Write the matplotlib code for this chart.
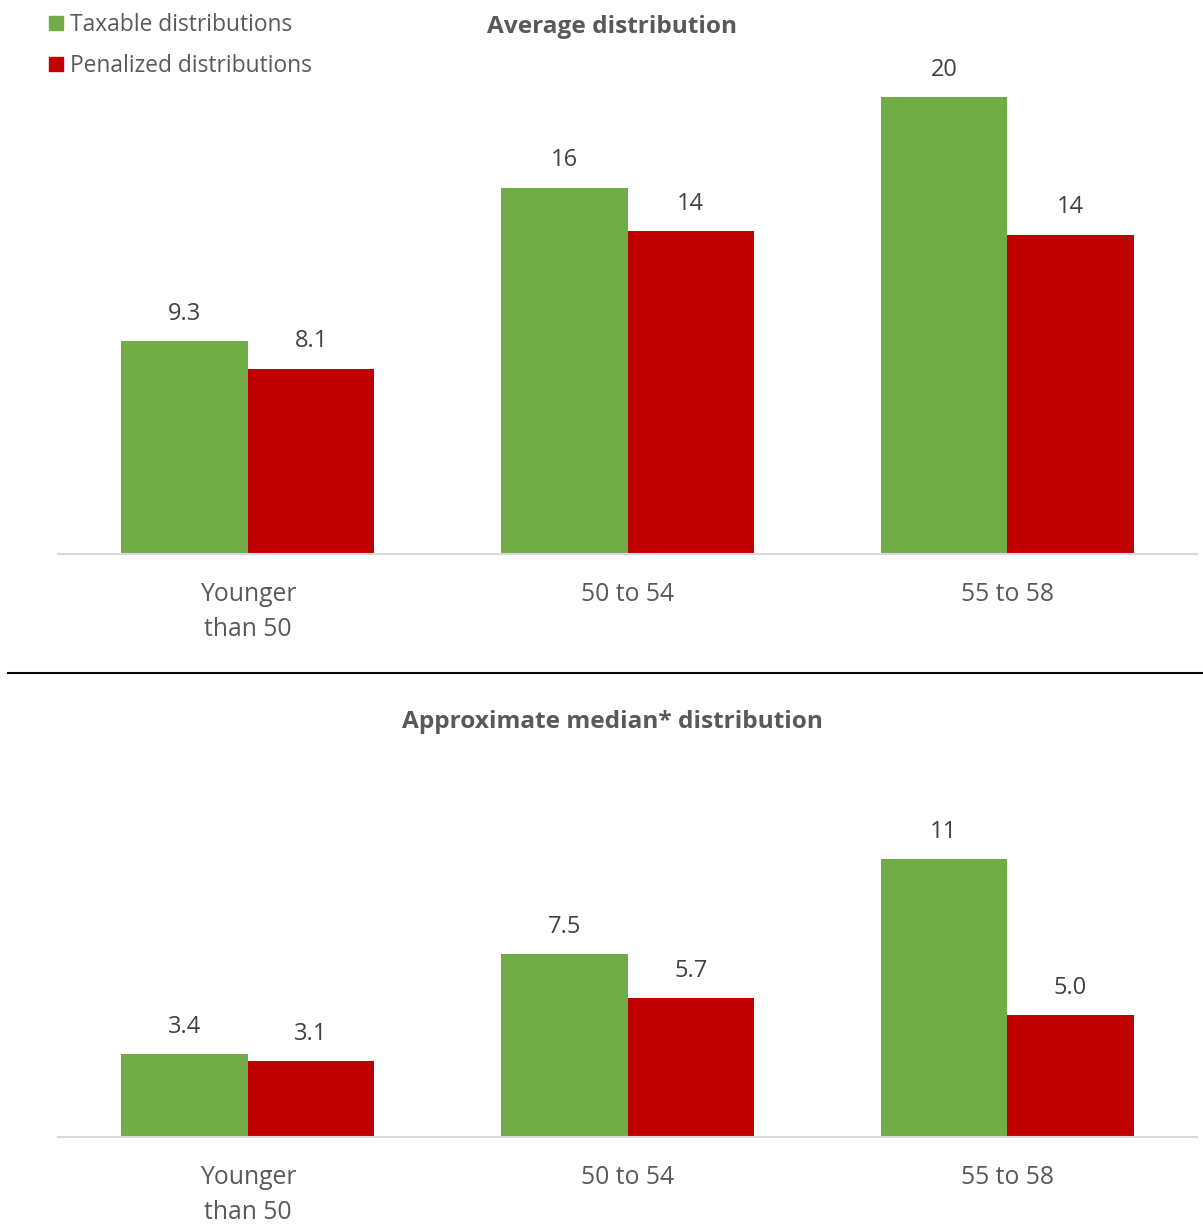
import matplotlib.pyplot as plt
from matplotlib.patches import Patch
from matplotlib.lines import Line2D

plt.rcParams['font.family'] = ['Open Sans', 'DejaVu Sans']

categories = ["Younger\nthan 50", "50 to 54", "55 to 58"]
series_names = ["Taxable distributions", "Penalized distributions"]

avg_taxable = [9.3, 16.0, 19.95]
avg_penalized = [8.1, 14.1, 13.95]

med_taxable = [3.4, 7.5, 11.4]
med_penalized = [3.1, 5.7, 5.0]

green = "#70AD47"
red = "#C00000"
W, H = 1203, 1224
FS = 17


def fmt(v):
    return f"{v:.0f}" if v >= 10 else f"{v:.1f}"


def draw(ax, taxable, penalized, ytop):
    x = range(len(categories))
    w = 1 / 3
    b1 = ax.bar([i - w / 2 for i in x], taxable, width=w, color=green)
    b2 = ax.bar([i + w / 2 for i in x], penalized, width=w, color=red)
    for bars, vals in ((b1, taxable), (b2, penalized)):
        for b, v in zip(bars, vals):
            ax.annotate(fmt(v), (b.get_x() + b.get_width() / 2, v),
                        xytext=(0, 11), textcoords="offset points",
                        ha="center", va="bottom", fontsize=FS, color="#404040")
    ax.set_xlim(-0.5, 2.5)
    ax.set_ylim(0, ytop)
    ax.set_xticks(list(x))
    ax.set_xticklabels(categories, fontsize=17.8, color="#595959", linespacing=1.52)
    ax.tick_params(axis="x", length=0, pad=20.5)
    ax.set_yticks([])
    for s in ("top", "left", "right"):
        ax.spines[s].set_visible(False)
    ax.spines["bottom"].set_color("#D9D9D9")
    ax.spines["bottom"].set_linewidth(1.5)


fig = plt.figure(figsize=(W / 100, H / 100), dpi=100)

ax1 = fig.add_axes([58 / W, (H - 554) / H, 1139 / W, 24 * 22.9 / H])
draw(ax1, avg_taxable, avg_penalized, 24)

ax2 = fig.add_axes([58 / W, (H - 1137) / H, 1139 / W, 14 * 24.4 / H])
draw(ax2, med_taxable, med_penalized, 14)

fig.text(612 / W, 1 - 27 / H, "Average distribution", ha="center", va="center",
         fontsize=17.6, fontweight="bold", color="#595959")
fig.text(612 / W, 1 - 722 / H, "Approximate median* distribution", ha="center",
         va="center", fontsize=17.6, fontweight="bold", color="#595959")

handles = [Patch(color=green), Patch(color=red)]
fig.legend(handles, series_names, loc="upper left", bbox_to_anchor=(40 / W, 1 - 4 / H),
           frameon=False, fontsize=16.4, labelcolor="#595959", handlelength=0.6,
           handleheight=0.6, handletextpad=0.3, labelspacing=0.75, borderaxespad=0)

fig.add_artist(Line2D([8 / W, 1], [1 - 673 / H, 1 - 673 / H], color="black", lw=1.5))

fig.savefig("out.png", dpi=100)
